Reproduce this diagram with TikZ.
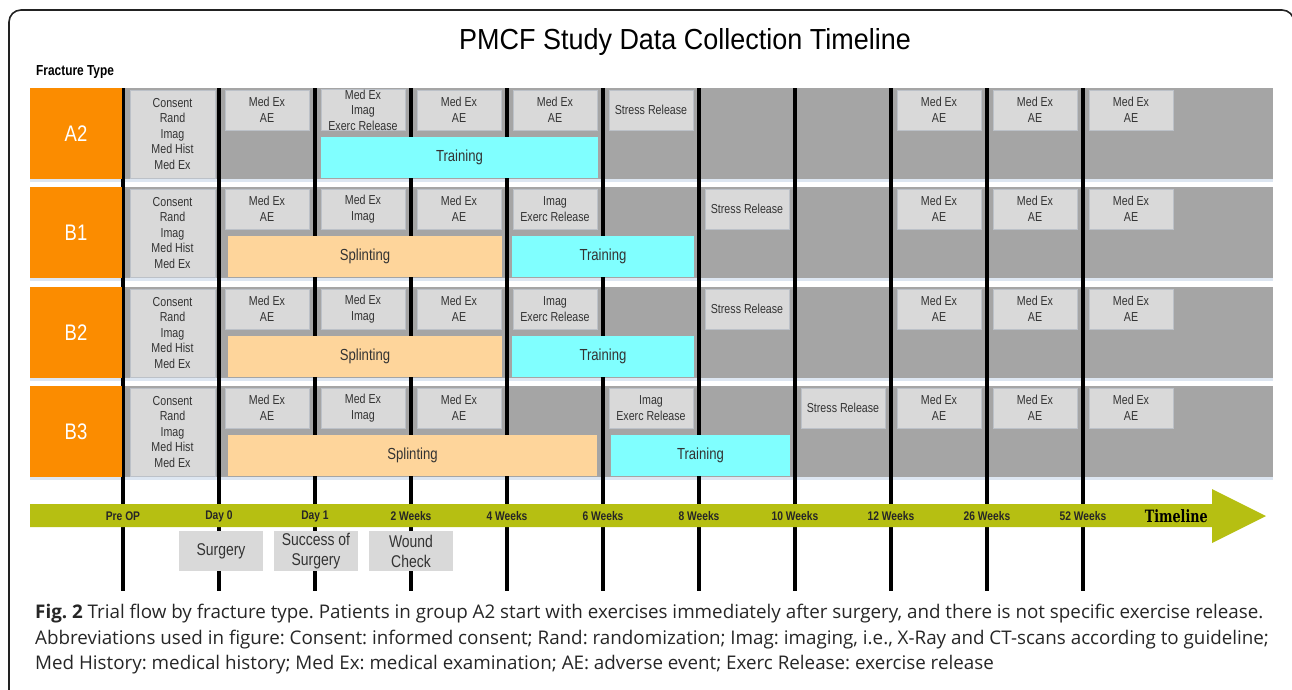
\documentclass[tikz,border=0pt]{standalone}
\usepackage{fontspec}
\setmainfont{Liberation Sans}
\newfontfamily\condfont{Liberation Sans}[FakeStretch=0.82]
\newfontfamily\headfont{Liberation Sans}[FakeStretch=0.93]
\newfontfamily\slabfont{DejaVu Serif}[FakeStretch=0.75]
\newfontfamily\capfont{Open Sans}
\frenchspacing

\definecolor{bandgray}{HTML}{A5A5A5}
\definecolor{boxgray}{HTML}{D9D9D9}
\definecolor{boxedge}{HTML}{BCC1C8}
\definecolor{boxtext}{HTML}{333333}
\definecolor{typeorange}{HTML}{FB8C00}
\definecolor{splintpeach}{HTML}{FED59B}
\definecolor{traincyan}{HTML}{80FFFF}
\definecolor{timeolive}{HTML}{B6BF12}
\definecolor{rowshadow}{HTML}{DDE6F1}
\definecolor{framecol}{HTML}{222222}

\tikzset{
  typebox/.style={fill=typeorange, text=white, minimum width=92, minimum height=91,
    inner sep=0, font=\condfont\fontsize{22.5}{24}\selectfont},
  evbox/.style={fill=boxgray, draw=boxedge, line width=0.8, minimum width=84,
    minimum height=40, inner sep=0, align=center, text=boxtext,
    font=\condfont\fontsize{13}{15.5}\selectfont},
  histbox/.style={evbox, minimum width=85, minimum height=88},
  splintbar/.style={fill=splintpeach, minimum height=41, inner sep=0, text=boxtext,
    font=\condfont\fontsize{16}{17}\selectfont},
  trainbar/.style={splintbar, fill=traincyan},
  tickline/.style={line width=4, black},
  ticklabel/.style={inner sep=0, text=black!85,
    font=\condfont\bfseries\fontsize{12.5}{14}\selectfont},
  stepnote/.style={fill=boxgray, minimum width=84, minimum height=40, inner sep=0,
    align=center, text=boxtext, font=\condfont\fontsize{17}{20}\selectfont},
  capline/.style={inner sep=0, text=black!85, font=\capfont\fontsize{18.8}{22}\selectfont},
}

\begin{document}
\begin{tikzpicture}[x=1pt,y=-1pt]
\useasboundingbox (0,0) rectangle (1292,689);

% outer frame
\draw[framecol, line width=1.6, rounded corners=12] (9,720) -- (9,10) -- (1294,10) -- (1294,720);

% title
\node[anchor=base, inner sep=0, font=\headfont\fontsize{29}{32}\selectfont] (title) at (685,49)
  {PMCF Study Data Collection Timeline};
\node[anchor=west, inner sep=0, font=\condfont\bfseries\fontsize{14.5}{16}\selectfont] (ftype) at (36,72.5)
  {Fracture Type};

% row bands with their light shadow
\foreach \top in {88,187,287,386} {
  \fill[rowshadow] (30,\top+91) rectangle (1273,\top+94);
  \fill[bandgray] (122,\top) rectangle (1273,\top+91);
}

% time ticks
\foreach \i in {0,...,10} {
  \coordinate (tt\i) at ({123+96*\i},88);
  \coordinate (tb\i) at ({123+96*\i},591);
  \draw[tickline] (tt\i) -- (tb\i);
}

% fracture types
\node[typebox] (fa2) at (76,133.5) {A2};
\node[typebox] (fb1) at (76,232.5) {B1};
\node[typebox] (fb2) at (76,332.5) {B2};
\node[typebox] (fb3) at (76,431.5) {B3};

% A2
\node[histbox] (a2c0) at (172.5,134) {Consent\\Rand\\Imag\\Med Hist\\Med Ex};
\node[evbox] (a2c1) at (267,110) {Med Ex\\AE};
\node[evbox] (a2c2) at (363,110) {Med Ex\\Imag\\Exerc Release};
\node[evbox] (a2c3) at (459,110) {Med Ex\\AE};
\node[evbox] (a2c4) at (555,110) {Med Ex\\AE};
\node[evbox] (a2c5) at (651,110) {Stress Release};
\node[evbox] (a2c8) at (939,110) {Med Ex\\AE};
\node[evbox] (a2c9) at (1035,110) {Med Ex\\AE};
\node[evbox] (a2c10) at (1131,110) {Med Ex\\AE};
\node[trainbar, minimum width=277] (a2train) at (459.5,157) {Training};

% B1
\node[histbox] (b1c0) at (172.5,233) {Consent\\Rand\\Imag\\Med Hist\\Med Ex};
\node[evbox] (b1c1) at (267,209) {Med Ex\\AE};
\node[evbox] (b1c2) at (363,209) {Med Ex\\Imag};
\node[evbox] (b1c3) at (459,209) {Med Ex\\AE};
\node[evbox] (b1c4) at (555,209) {Imag\\Exerc Release};
\node[evbox] (b1c6) at (747,209) {Stress Release};
\node[evbox] (b1c8) at (939,209) {Med Ex\\AE};
\node[evbox] (b1c9) at (1035,209) {Med Ex\\AE};
\node[evbox] (b1c10) at (1131,209) {Med Ex\\AE};
\node[splintbar, minimum width=274] (b1splint) at (365,256) {Splinting};
\node[trainbar, minimum width=182] (b1train) at (603,256) {Training};

% B2
\node[histbox] (b2c0) at (172.5,333) {Consent\\Rand\\Imag\\Med Hist\\Med Ex};
\node[evbox] (b2c1) at (267,309) {Med Ex\\AE};
\node[evbox] (b2c2) at (363,309) {Med Ex\\Imag};
\node[evbox] (b2c3) at (459,309) {Med Ex\\AE};
\node[evbox] (b2c4) at (555,309) {Imag\\Exerc Release};
\node[evbox] (b2c6) at (747,309) {Stress Release};
\node[evbox] (b2c8) at (939,309) {Med Ex\\AE};
\node[evbox] (b2c9) at (1035,309) {Med Ex\\AE};
\node[evbox] (b2c10) at (1131,309) {Med Ex\\AE};
\node[splintbar, minimum width=274] (b2splint) at (365,356) {Splinting};
\node[trainbar, minimum width=182] (b2train) at (603,356) {Training};

% B3
\node[histbox] (b3c0) at (172.5,432) {Consent\\Rand\\Imag\\Med Hist\\Med Ex};
\node[evbox] (b3c1) at (267,408) {Med Ex\\AE};
\node[evbox] (b3c2) at (363,408) {Med Ex\\Imag};
\node[evbox] (b3c3) at (459,408) {Med Ex\\AE};
\node[evbox] (b3c5) at (651,408) {Imag\\Exerc Release};
\node[evbox] (b3c7) at (843,408) {Stress Release};
\node[evbox] (b3c8) at (939,408) {Med Ex\\AE};
\node[evbox] (b3c9) at (1035,408) {Med Ex\\AE};
\node[evbox] (b3c10) at (1131,408) {Med Ex\\AE};
\node[splintbar, minimum width=369] (b3splint) at (412.5,455) {Splinting};
\node[trainbar, minimum width=179] (b3train) at (700.5,455) {Training};

% timeline arrow
\fill[timeolive] (30,504) -- (1212,504) -- (1212,489) -- (1266,516) -- (1212,543)
  -- (1212,527) -- (30,527) -- cycle;
\foreach \lab [count=\i from 0] in {Pre OP, Day 0, Day 1, 2 Weeks, 4 Weeks, 6 Weeks,
    8 Weeks, 10 Weeks, 12 Weeks, 26 Weeks, 52 Weeks}
  \node[ticklabel] (lab\i) at ({123+96*\i},516) {\lab};
\node[anchor=east, inner sep=0, font=\slabfont\bfseries\fontsize{17}{20}\selectfont] (tlname) at (1208,516) {Timeline};

% events below the timeline
\node[stepnote] (surg) at (221,551) {Surgery};
\node[stepnote] (succ) at (316,551) {Success of\\Surgery};
\node[stepnote] (wound) at (411,551) {Wound\\Check};

% caption
\node[capline, anchor=base west] (cap1) at (35,618) {\textbf{Fig. 2} Trial flow by fracture type. Patients in group A2 start with exercises immediately after surgery, and there is not specific exercise release.};
\node[capline, anchor=base west] (cap2) at (35,644) {Abbreviations used in figure: Consent: informed consent; Rand: randomization; Imag: imaging, i.e., X-Ray and CT-scans according to guideline;};
\node[capline, anchor=base west] (cap3) at (35,669) {Med History: medical history; Med Ex: medical examination; AE: adverse event; Exerc Release: exercise release};
\end{tikzpicture}
\end{document}
